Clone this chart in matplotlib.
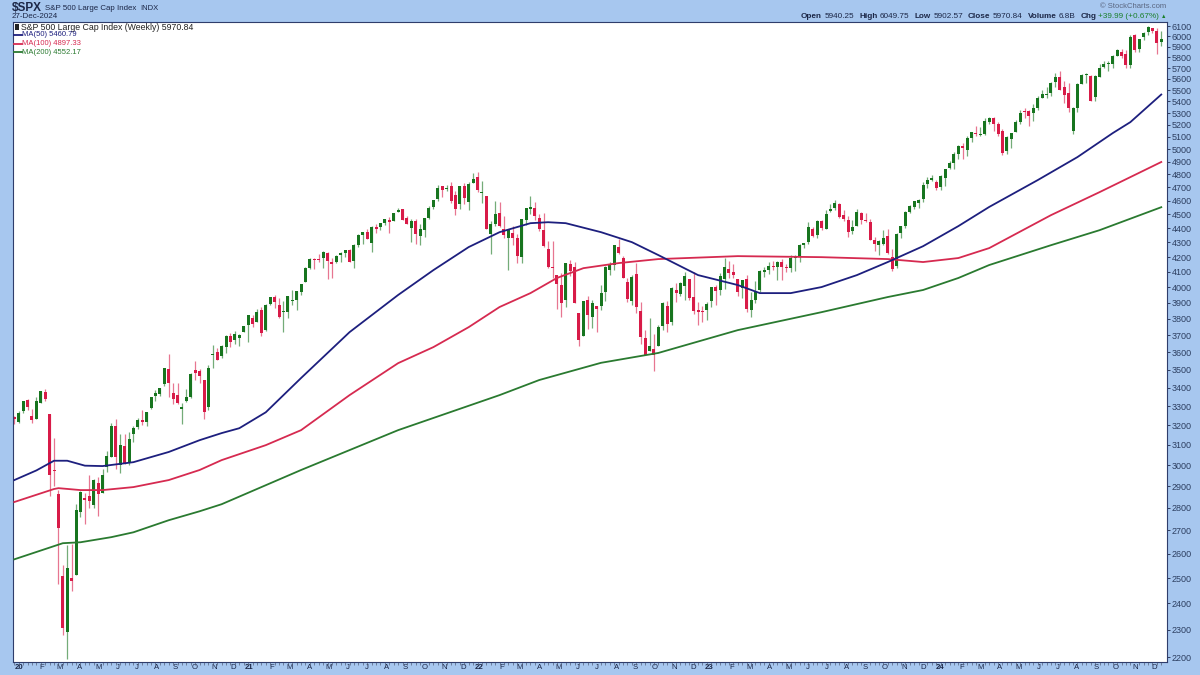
import matplotlib
matplotlib.use('Agg')
import matplotlib.pyplot as plt
from matplotlib.lines import Line2D
from matplotlib.patches import Rectangle
from matplotlib.ticker import FixedLocator, FixedFormatter, NullLocator
import numpy as np
import pandas as pd

plt.rcParams['font.family'] = ['Liberation Sans', 'DejaVu Sans']

# weekly candles, $SPX, week ending 3-Jan-2020 ... 27-Dec-2024
opens = (
    # 2020
    [3240, 3218, 3273, 3334, 3248, 3235, 3319, 3378, 3257, 2974, 2864, 2508, 2290,
     2499, 2514, 2782, 2845, 2854, 2815, 2915, 2869, 2993, 3039, 3199, 2999, 3094,
     3018, 3155, 3191, 3225, 3219, 3289, 3356, 3368, 3419, 3507, 3369, 3363, 3285,
     3326, 3349, 3500, 3494, 3441, 3296, 3583, 3600, 3579, 3634, 3698, 3675, 3684]
    # 2021
    + [3723, 3764, 3803, 3784, 3856, 3731, 3892, 3939, 3886, 3842, 3844, 3913, 3916,
       3970, 4034, 4125, 4183, 4185, 4192, 4228, 4169, 4168, 4216, 4230, 4248, 4174,
       4285, 4353, 4372, 4297, 4410, 4407, 4439, 4462, 4450, 4514, 4536, 4474, 4402,
       4449, 4348, 4385, 4472, 4553, 4610, 4707, 4689, 4712, 4640, 4572, 4710, 4587, 4733]
    # 2022
    + [4778, 4655, 4632, 4357, 4432, 4506, 4391, 4332, 4364, 4328, 4203, 4462, 4541,
       4547, 4474, 4386, 4255, 4130, 4082, 4013, 3921, 4152, 4134, 3838, 3696, 3920,
       3815, 3880, 3883, 3966, 4112, 4143, 4269, 4195, 4034, 3910, 4084, 3849, 3683,
       3610, 3619, 3638, 3758, 3882, 3780, 3983, 3956, 4005, 4053, 3940, 3854, 3843]
    # 2023
    + [3853, 3910, 3999, 3979, 4053, 4120, 4099, 4052, 3992, 4055, 3855, 3917, 3982,
       4102, 4110, 4136, 4134, 4167, 4136, 4127, 4191, 4201, 4282, 4305, 4397, 4355,
       4450, 4394, 4521, 4544, 4578, 4492, 4459, 4380, 4416, 4510, 4462, 4445, 4314,
       4284, 4289, 4342, 4202, 4139, 4364, 4419, 4514, 4554, 4586, 4610, 4725, 4759]
    # 2024
    + [4745, 4703, 4772, 4853, 4888, 4957, 5026, 4989, 5094, 5132, 5112, 5123, 5220,
       5258, 5211, 5150, 4987, 5085, 5143, 5225, 5311, 5316, 5298, 5341, 5432, 5459,
       5471, 5572, 5616, 5525, 5476, 5151, 5345, 5556, 5636, 5624, 5442, 5616, 5711,
       5737, 5737, 5816, 5853, 5826, 5725, 6008, 5875, 5993, 6040, 6083, 6050, 5940.25]
)

highs = (
    [3246, 3275, 3330, 3338, 3286, 3348, 3385, 3393, 3260, 3137, 2883, 2553, 2637,
     2642, 2819, 2880, 2870, 2955, 2933, 2945, 2981, 3068, 3212, 3233, 3155, 3154,
     3166, 3198, 3238, 3280, 3272, 3352, 3387, 3399, 3509, 3588, 3425, 3429, 3320,
     3393, 3482, 3550, 3502, 3441, 3529, 3646, 3628, 3645, 3700, 3712, 3726, 3711]
    + [3760, 3827, 3823, 3861, 3871, 3894, 3937, 3950, 3930, 3915, 3944, 3983, 3975,
       4020, 4130, 4191, 4195, 4218, 4238, 4236, 4190, 4214, 4234, 4249, 4256, 4287,
       4356, 4372, 4393, 4415, 4429, 4440, 4468, 4481, 4513, 4545, 4537, 4486, 4465,
       4466, 4430, 4476, 4559, 4608, 4718, 4708, 4718, 4744, 4673, 4713, 4732, 4740, 4808]
    + [4819, 4749, 4632, 4454, 4595, 4589, 4489, 4385, 4416, 4358, 4465, 4546, 4637,
       4593, 4500, 4513, 4308, 4307, 4082, 4090, 4158, 4178, 4169, 3838, 3913, 3946,
       3918, 3880, 4013, 4140, 4168, 4281, 4326, 4204, 4062, 4077, 4159, 3907, 3733,
       3807, 3709, 3763, 3906, 3912, 4000, 4028, 4034, 4101, 4053, 4101, 3906, 3878]
    + [3906, 4003, 4015, 4094, 4195, 4176, 4156, 4052, 4048, 4079, 3972, 4039, 4110,
       4133, 4163, 4170, 4170, 4186, 4155, 4213, 4212, 4291, 4299, 4448, 4409, 4456,
       4456, 4528, 4578, 4607, 4584, 4528, 4490, 4458, 4541, 4514, 4512, 4466, 4338,
       4320, 4386, 4394, 4256, 4366, 4418, 4521, 4568, 4597, 4610, 4739, 4778, 4793]
    + [4755, 4798, 4842, 4904, 4975, 5030, 5048, 5111, 5141, 5190, 5179, 5262, 5265,
       5264, 5220, 5169, 5106, 5129, 5239, 5325, 5342, 5325, 5376, 5447, 5505, 5524,
       5570, 5655, 5670, 5586, 5566, 5350, 5564, 5643, 5651, 5633, 5636, 5734, 5767,
       5765, 5822, 5879, 5878, 5866, 6013, 6018, 5972, 6044, 6099, 6085, 6085, 6049.75]
)

lows = (
    [3206, 3214, 3263, 3280, 3214, 3235, 3315, 3328, 2856, 2902, 2478, 2280, 2192,
     2447, 2514, 2761, 2727, 2798, 2798, 2766, 2869, 2969, 3039, 2984, 2965, 3004,
     3000, 3115, 3183, 3201, 3199, 3284, 3327, 3355, 3410, 3350, 3310, 3313, 3209,
     3324, 3347, 3441, 3425, 3234, 3280, 3512, 3555, 3565, 3594, 3634, 3647, 3636]
    + [3723, 3663, 3750, 3784, 3694, 3726, 3885, 3866, 3805, 3723, 3806, 3886, 3853,
       3949, 4034, 4119, 4118, 4168, 4128, 4056, 4062, 4160, 4167, 4198, 4165, 4126,
       4270, 4289, 4322, 4233, 4364, 4386, 4422, 4367, 4450, 4514, 4457, 4427, 4305,
       4289, 4279, 4340, 4465, 4538, 4596, 4631, 4672, 4585, 4496, 4540, 4574, 4532, 4733]
    + [4662, 4582, 4396, 4223, 4415, 4410, 4328, 4115, 4279, 4157, 4161, 4424, 4505,
       4457, 4381, 4268, 4129, 4063, 3859, 3811, 3876, 4074, 3899, 3637, 3696, 3739,
       3742, 3722, 3855, 3911, 4080, 4116, 4218, 4057, 3907, 3887, 3838, 3648, 3584,
       3610, 3492, 3636, 3734, 3719, 3764, 3907, 3945, 3918, 3919, 3828, 3765, 3784]
    + [3794, 3877, 3885, 3949, 3989, 4061, 4061, 3944, 3928, 3846, 3809, 3901, 3971,
       4069, 4086, 4114, 4049, 4048, 4098, 4099, 4103, 4167, 4261, 4292, 4337, 4328,
       4385, 4394, 4514, 4528, 4474, 4453, 4335, 4356, 4414, 4430, 4446, 4316, 4238,
       4217, 4283, 4223, 4104, 4127, 4329, 4402, 4513, 4537, 4547, 4593, 4699, 4751]
    + [4683, 4682, 4714, 4845, 4845, 4919, 4920, 4946, 5057, 5108, 5105, 5116, 5204,
       5146, 5107, 4954, 4963, 5011, 5142, 5211, 5257, 5191, 5234, 5327, 5428, 5433,
       5445, 5528, 5497, 5391, 5306, 5120, 5306, 5554, 5560, 5403, 5407, 5615, 5702,
       5674, 5696, 5814, 5794, 5703, 5697, 5853, 5850, 5963, 6017, 6031, 5833, 5902.57]
)

closes = (
    [3235, 3265, 3330, 3295, 3226, 3328, 3380, 3338, 2954, 2972, 2711, 2305, 2541,
     2489, 2790, 2875, 2837, 2831, 2930, 2864, 2955, 3044, 3194, 3041, 3098, 3009,
     3130, 3185, 3225, 3216, 3271, 3351, 3373, 3397, 3508, 3427, 3341, 3319, 3298,
     3348, 3477, 3484, 3465, 3270, 3509, 3585, 3558, 3638, 3699, 3663, 3709, 3703]
    + [3756, 3825, 3768, 3841, 3714, 3887, 3935, 3907, 3811, 3842, 3943, 3913, 3975,
       4020, 4129, 4185, 4180, 4181, 4233, 4174, 4156, 4204, 4230, 4247, 4166, 4281,
       4352, 4370, 4327, 4412, 4395, 4437, 4468, 4442, 4509, 4535, 4459, 4433, 4455,
       4357, 4391, 4471, 4545, 4605, 4698, 4683, 4698, 4595, 4538, 4712, 4621, 4726, 4766]
    + [4677, 4663, 4398, 4432, 4501, 4419, 4349, 4385, 4329, 4204, 4463, 4543, 4546,
       4488, 4393, 4272, 4132, 4123, 4024, 3901, 4158, 4109, 3901, 3675, 3912, 3825,
       3899, 3863, 3962, 4130, 4145, 4280, 4228, 4058, 3924, 4067, 3873, 3693, 3586,
       3640, 3583, 3753, 3901, 3771, 3993, 3965, 4026, 4072, 3934, 3852, 3845, 3840]
    + [3895, 3999, 3973, 4071, 4136, 4090, 4079, 3970, 4046, 3862, 3917, 3971, 4109,
       4105, 4138, 4134, 4169, 4136, 4124, 4192, 4205, 4282, 4299, 4410, 4348, 4450,
       4399, 4505, 4536, 4582, 4478, 4464, 4370, 4406, 4516, 4457, 4450, 4320, 4288,
       4309, 4328, 4224, 4117, 4358, 4415, 4514, 4559, 4595, 4604, 4719, 4755, 4770]
    + [4697, 4784, 4840, 4891, 4959, 5027, 5006, 5089, 5137, 5124, 5117, 5234, 5254,
       5204, 5123, 4967, 5100, 5128, 5223, 5303, 5305, 5278, 5347, 5432, 5465, 5460,
       5567, 5615, 5505, 5459, 5347, 5344, 5554, 5635, 5648, 5408, 5626, 5703, 5738,
       5751, 5815, 5865, 5808, 5729, 5996, 5871, 5969, 6032, 6090, 6051, 5931, 5970.84]
)

# moving averages (week index, value)
ma50_wk = [0, 5, 9, 12, 16, 20, 27, 35, 42, 47, 51, 57, 65, 76, 87, 95, 103, 110, 117,
           121, 125, 133, 140, 146, 155, 164, 169, 176, 183, 191, 198, 206, 214, 221,
           232, 241, 249, 253, 260]
ma50_val = [2929, 2975, 3022, 3022, 2998, 2996, 3015, 3065, 3124, 3160, 3185, 3268, 3454,
            3720, 3950, 4112, 4268, 4372, 4436, 4443, 4436, 4372, 4302, 4213, 4079, 4014,
            3962, 3962, 4001, 4079, 4166, 4274, 4415, 4554, 4756, 4936, 5131, 5223, 5461]

ma100_wk = [0, 9, 10, 15, 20, 27, 35, 42, 47, 57, 65, 76, 87, 95, 103, 110, 117, 123, 129,
            137, 146, 164, 183, 198, 206, 214, 221, 235, 246, 253, 260]
ma100_val = [2827, 2887, 2891, 2882, 2882, 2896, 2929, 2977, 3025, 3099, 3175, 3360, 3538,
             3631, 3750, 3874, 3962, 4060, 4125, 4159, 4186, 4206, 4199, 4186, 4166, 4193,
             4261, 4494, 4664, 4779, 4897]

ma200_wk = [0, 11, 15, 22, 27, 35, 42, 47, 65, 87, 110, 119, 133, 146, 164, 183, 198, 206,
            214, 221, 235, 246, 260]
ma200_val = [2577, 2645, 2649, 2671, 2692, 2745, 2785, 2817, 2977, 3175, 3360, 3443, 3540,
             3597, 3732, 3842, 3937, 3982, 4060, 4146, 4281, 4386, 4552]

y_ticks = list(range(2200, 6200, 100))

W, H = 1200, 675
BG = '#a7c7ef'
GREEN = '#17751f'
RED = '#d81b48'
NAVY = '#1d1f7e'
MA_RED = '#d62a50'
MA_GREEN = '#2a7a30'
TXT = '#1c2747'

fig = plt.figure(figsize=(12, 6.75), dpi=100, facecolor=BG)
ax = fig.add_axes([13 / W, 1 - 662 / H, (1167 - 13) / W, (662 - 22) / H])
ax.set_facecolor('white')

weeks = pd.date_range('2020-01-03', periods=len(closes), freq='W-FRI')
x = np.arange(len(closes))
o = np.array(opens, dtype=float)
c = np.array(closes, dtype=float)
hi = np.array(highs, dtype=float)
lo = np.array(lows, dtype=float)

up = c >= o
body_col = np.where(up, GREEN, RED)
bottom = np.minimum(o, c)
height = np.maximum(np.abs(c - o), c * 0.002)

ax.vlines(x, lo, hi, colors=body_col, linewidth=0.9, alpha=0.6, zorder=2)
ax.bar(x, height, bottom=bottom, width=0.68, color=body_col, linewidth=0, zorder=2)

ax.plot(ma200_wk, ma200_val, color=MA_GREEN, lw=1.3, zorder=3)
ax.plot(ma100_wk, ma100_val, color=MA_RED, lw=1.3, zorder=3)
ax.plot(ma50_wk, ma50_val, color=NAVY, lw=1.3, zorder=3)

ax.set_yscale('log')
ax.set_ylim(2183, 6140)
ax.set_xlim(-0.3, 261.3)

ax.yaxis.set_major_locator(FixedLocator(y_ticks))
ax.yaxis.set_major_formatter(FixedFormatter([str(v) for v in y_ticks]))
ax.yaxis.set_minor_locator(NullLocator())
ax.yaxis.tick_right()
ax.tick_params(axis='y', which='major', length=2.5, width=0.6, color=TXT,
               labelsize=6.5, labelcolor='#2c3e60', pad=1)

# month labels along the bottom
months = pd.date_range('2020-01-01', '2024-12-01', freq='MS')
m_pos, m_lab = [], []
for m in months:
    off = 1.3 if m.month == 1 else 2.0
    m_pos.append((m - weeks[0]).days / 7 + off)
    m_lab.append(f"{m.year % 100:02d}" if m.month == 1 else 'JFMAMJJASOND'[m.month - 1])
ax.set_xticks(m_pos)
ax.set_xticklabels(m_lab)
for t, m in zip(ax.get_xticklabels(), months):
    if m.month == 1:
        t.set_fontweight('bold')
        t.set_fontsize(6.3)
ax.set_xticks(x, minor=True)
ax.tick_params(axis='x', which='major', length=0, labelsize=5.6, labelcolor=TXT, pad=1.5)
ax.tick_params(axis='x', which='minor', length=2, width=0.5, color='#55607a')

for s in ax.spines.values():
    s.set_color('#2f3d6b')
    s.set_linewidth(0.8)


def fx(px):
    return px / W


def fy(py):
    return 1 - py / H


renderer = fig.canvas.get_renderer()

# header, left: placed one after another
xp = 12
for s, size, weight, gap in [('$SPX', 8.5, 'bold', 3), ('S&P 500 Large Cap Index', 5.7, 'normal', 4),
                             ('INDX', 5.5, 'normal', 0)]:
    t = fig.text(fx(xp), fy(8), s, fontsize=size, fontweight=weight, color=TXT, va='center')
    xp += t.get_window_extent(renderer).width + gap
fig.text(fx(12), fy(16.5), '27-Dec-2024', fontsize=5.8, color=TXT, va='center')
fig.text(fx(1166), fy(6.5), '\u00a9 StockCharts.com', fontsize=5.5, color='#5a6680',
         ha='right', va='center')

# header, right: placed from the right edge leftwards
pieces = [('Open', True, TXT), ('5940.25', False, TXT), ('High', True, TXT),
          ('6049.75', False, TXT), ('Low', True, TXT), ('5902.57', False, TXT),
          ('Close', True, TXT), ('5970.84', False, TXT), ('Volume', True, TXT),
          ('6.8B', False, TXT), ('Chg', True, TXT), ('+39.99 (+0.67%)', False, '#1a7f2a'),
          ('\u25b2', False, '#1a7f2a')]
xp = 1166
for s, bold, col in reversed(pieces):
    t = fig.text(fx(xp), fy(16.5), s, fontsize=5.9 if s != '\u25b2' else 4,
                 fontweight='bold' if bold else 'normal', color=col, ha='right', va='center')
    w = t.get_window_extent(renderer).width
    if bold:
        gap = 5
    elif s in ('+39.99 (+0.67%)', '\u25b2'):
        gap = 1.5
    else:
        gap = 2.5
    xp -= w + gap

# legend inside the plot
fig.add_artist(Rectangle((fx(15), fy(29.5)), 4 / W, 5 / H, transform=fig.transFigure,
                         facecolor='#222222', edgecolor='none'))
fig.text(fx(21), fy(27), 'S&P 500 Large Cap Index (Weekly) 5970.84', fontsize=6.3,
         color='#222222', va='center')
legend_rows = [('MA(50) 5460.79', NAVY, 35), ('MA(100) 4897.33', MA_RED, 43.5),
               ('MA(200) 4552.17', MA_GREEN, 52)]
for label, col, yy in legend_rows:
    fig.add_artist(Line2D([fx(14), fx(22)], [fy(yy), fy(yy)], transform=fig.transFigure,
                          color=col, lw=1.3))
    fig.text(fx(22.5), fy(yy), label, fontsize=5.5, color=col, va='center')

fig.savefig('out.png', dpi=100, facecolor=BG)
